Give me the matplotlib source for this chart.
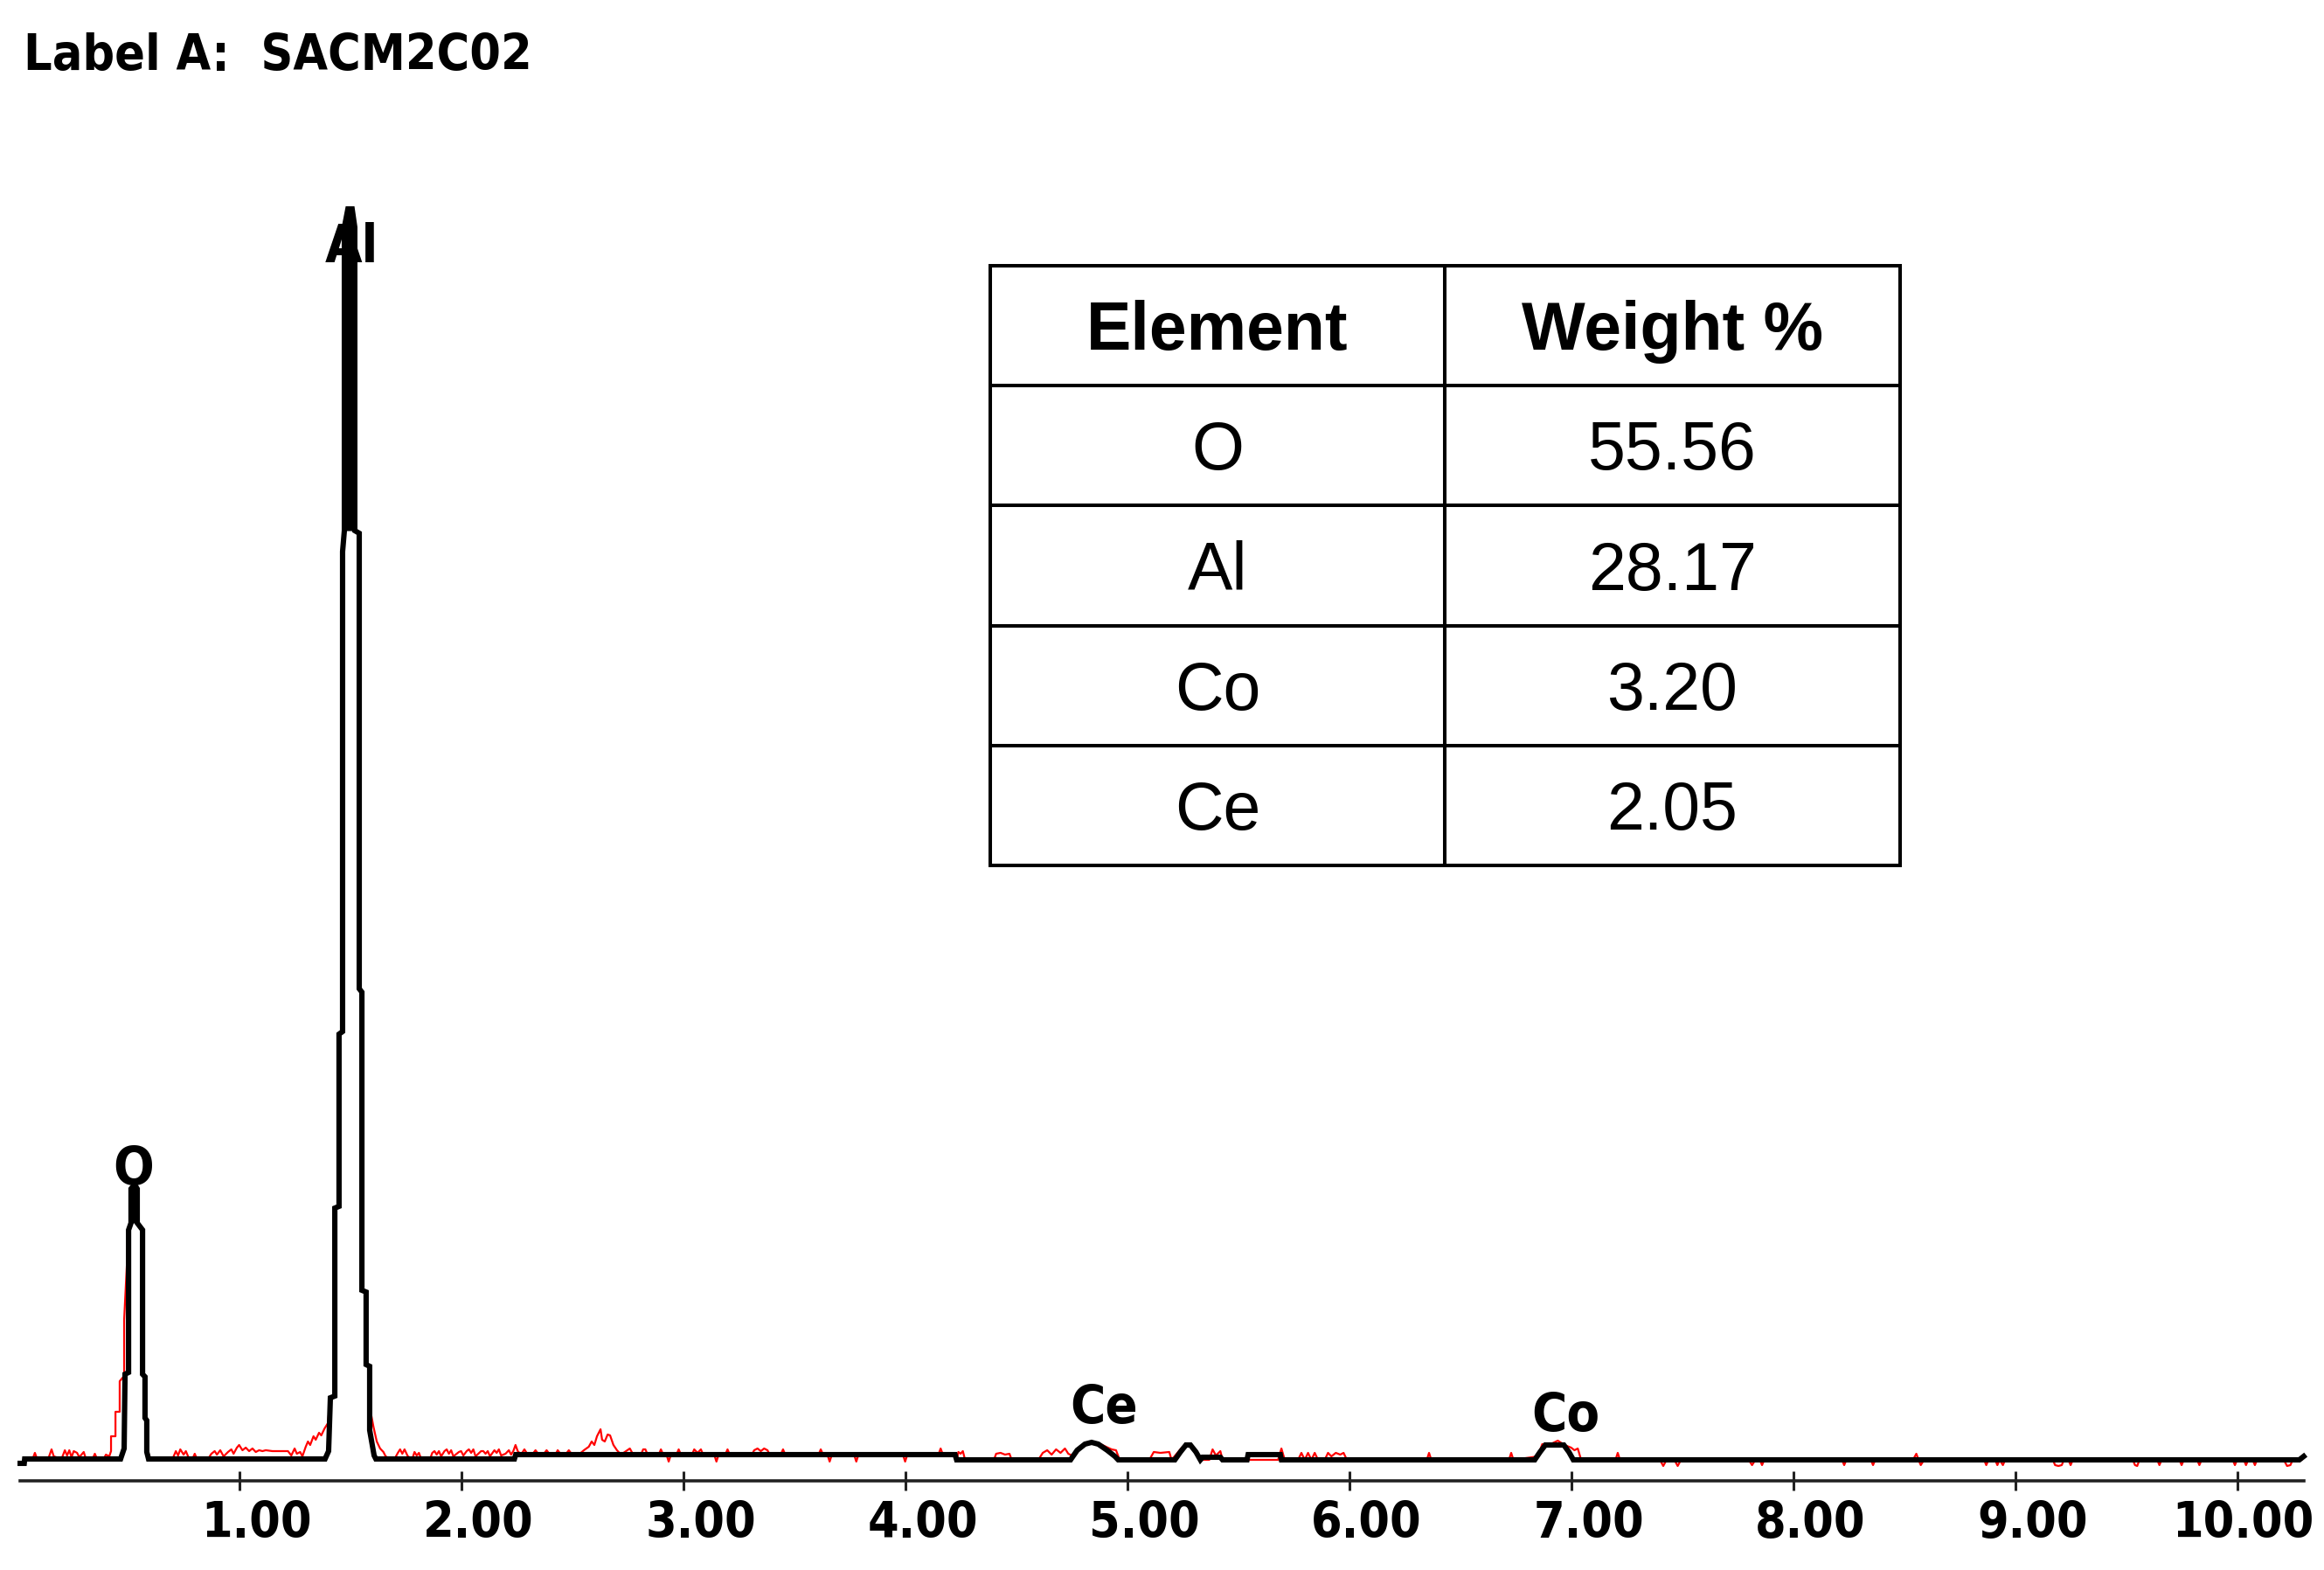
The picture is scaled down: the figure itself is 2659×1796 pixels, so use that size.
import numpy as np
import matplotlib
matplotlib.use('Agg')
import matplotlib.pyplot as plt
import matplotlib.transforms as mtransforms
from matplotlib import font_manager as fm

# ---- EDS spectrum: (energy keV, counts) ----
# black = processed/fit trace, red = raw counts (mostly hidden under the black one)
fit_pts = [(0.013, -5), (0.032, -5), (0.034, 0), (0.466, 0), (0.482, 12), (0.486, 97),
           (0.502, 99), (0.502, 262), (0.513, 270), (0.513, 309), (0.529, 314), (0.541, 309),
           (0.541, 270), (0.565, 262), (0.565, 97), (0.576, 94), (0.576, 47), (0.584, 44),
           (0.584, 8), (0.592, 0), (1.387, 0), (1.403, 9), (1.411, 70), (1.431, 72),
           (1.431, 287), (1.450, 289), (1.450, 486), (1.466, 489), (1.466, 1038), (1.474, 1062),
           (1.474, 1409), (1.490, 1430), (1.509, 1430), (1.521, 1409), (1.521, 1062),
           (1.541, 1059), (1.541, 538), (1.553, 534), (1.553, 193), (1.572, 191), (1.572, 108),
           (1.588, 106), (1.588, 33), (1.608, 4), (1.616, 0), (2.240, 0), (2.246, 5),
           (4.225, 5), (4.232, -1), (4.745, -1), (4.775, 10), (4.81, 17), (4.84, 19),
           (4.87, 17), (4.91, 10), (4.945, 3), (4.96, -1), (5.215, -1), (5.24, 8),
           (5.265, 16), (5.285, 16), (5.31, 8), (5.33, -1), (5.34, 2), (5.42, 2), (5.43, -1),
           (5.540, -1), (5.545, 5), (5.690, 5), (5.695, -1), (6.836, -1), (6.86, 8),
           (6.884, 16), (6.967, 16), (6.99, 8), (7.010, -1), (10.28, -1), (10.30, 3)]

raw_pts = [(0.03, 0), (0.07, 0), (0.08, 7), (0.09, 0), (0.14, 0), (0.155, 11), (0.165, 3),
           (0.20, 0), (0.215, 10), (0.225, 4), (0.235, 10), (0.245, 2), (0.255, 9), (0.27, 7),
           (0.28, 2), (0.30, 8), (0.31, 0), (0.34, 0), (0.35, 6), (0.36, 0), (0.39, 0),
           (0.40, 5), (0.415, 3), (0.423, 9), (0.423, 26), (0.443, 26), (0.443, 54),
           (0.462, 54), (0.462, 89), (0.482, 95), (0.482, 159), (0.502, 262), (0.513, 270),
           (0.513, 309), (0.529, 312), (0.541, 309), (0.541, 270), (0.565, 262), (0.565, 97),
           (0.576, 94), (0.576, 47), (0.584, 12), (0.60, 0),
           (0.70, 0), (0.715, 9), (0.725, 4), (0.735, 11), (0.75, 5), (0.76, 9), (0.775, 0),
           (0.79, 0), (0.80, 6), (0.81, 0), (0.86, 0), (0.875, 6), (0.89, 9), (0.90, 5),
           (0.915, 10), (0.93, 3), (0.95, 8), (0.965, 11), (0.975, 6), (0.99, 13), (1.00, 16),
           (1.015, 10), (1.03, 13), (1.045, 9), (1.06, 12), (1.075, 8), (1.09, 10),
           (1.105, 9), (1.12, 10), (1.15, 9), (1.19, 9), (1.22, 9), (1.235, 4), (1.25, 12),
           (1.26, 6), (1.275, 8), (1.285, 3), (1.30, 14), (1.31, 20), (1.32, 16), (1.335, 26),
           (1.345, 22), (1.36, 30), (1.37, 27), (1.385, 35), (1.40, 41), (1.411, 70),
           (1.431, 72), (1.431, 287), (1.450, 289), (1.450, 486), (1.466, 489), (1.466, 1038),
           (1.474, 1062), (1.474, 1409), (1.490, 1428), (1.509, 1428), (1.521, 1409),
           (1.521, 1062), (1.541, 1059), (1.541, 538), (1.553, 534), (1.553, 193),
           (1.572, 191), (1.572, 108), (1.588, 106), (1.588, 60), (1.605, 37), (1.62, 20),
           (1.635, 12), (1.65, 8), (1.66, 3), (1.68, 0),
           (1.70, 0), (1.715, 7), (1.725, 11), (1.735, 6), (1.745, 11), (1.76, 3), (1.78, 0),
           (1.79, 8), (1.80, 4), (1.81, 7), (1.82, 0), (1.86, 0), (1.87, 7), (1.88, 9),
           (1.89, 5), (1.90, 9), (1.91, 3), (1.925, 9), (1.935, 11), (1.945, 6), (1.955, 10),
           (1.965, 3), (1.99, 8), (2.00, 9), (2.01, 4), (2.025, 9), (2.035, 11), (2.045, 7),
           (2.055, 11), (2.065, 3), (2.09, 9), (2.10, 9), (2.11, 6), (2.12, 9), (2.13, 3),
           (2.15, 10), (2.16, 7), (2.17, 11), (2.18, 4), (2.20, 6), (2.215, 10), (2.225, 5),
           (2.235, 9), (2.245, 16), (2.255, 9),
           (2.27, 5), (2.285, 11), (2.30, 5), (2.32, 5), (2.335, 10), (2.35, 5), (2.37, 5),
           (2.385, 10), (2.40, 5), (2.425, 5), (2.435, 10), (2.45, 5), (2.47, 5), (2.485, 10),
           (2.50, 5), (2.53, 5), (2.553, 10), (2.575, 14), (2.588, 20), (2.60, 16),
           (2.612, 26), (2.628, 34), (2.635, 22), (2.647, 20), (2.66, 28), (2.671, 27),
           (2.686, 16), (2.702, 10), (2.72, 5), (2.76, 12), (2.775, 5), (2.81, 5), (2.82, 11),
           (2.83, 11), (2.84, 5), (2.89, 5), (2.90, 11), (2.91, 5), (2.925, 5), (2.935, -3),
           (2.945, 5), (2.97, 5), (2.98, 11), (2.99, 5), (3.04, 5), (3.05, 11), (3.065, 7),
           (3.08, 11), (3.09, 5), (3.14, 5), (3.15, -3), (3.16, 5), (3.19, 5), (3.20, 11),
           (3.21, 5), (3.31, 5), (3.32, 10), (3.335, 12), (3.35, 9), (3.365, 12), (3.38, 10),
           (3.39, 5), (3.44, 5), (3.45, 11), (3.46, 5), (3.61, 5), (3.62, 11), (3.63, 5),
           (3.65, 5), (3.66, -3), (3.67, 5), (3.77, 5), (3.78, -3), (3.79, 5), (3.99, 5),
           (4.00, -3), (4.01, 5), (4.15, 5), (4.16, 12), (4.17, 5), (4.21, 5), (4.225, 5),
           (4.232, -1), (4.24, 8), (4.25, 6), (4.26, 9), (4.27, -1), (4.40, -1), (4.41, 6),
           (4.43, 7), (4.45, 5), (4.47, 6), (4.48, -1), (4.60, -1), (4.62, 7), (4.64, 10),
           (4.66, 5), (4.68, 11), (4.70, 7), (4.72, 12), (4.735, 6), (4.76, 3), (4.80, 15),
           (4.84, 19), (4.88, 17), (4.93, 11), (4.95, 10), (4.965, 0), (5.10, -1), (5.12, 8),
           (5.15, 7), (5.19, 8), (5.20, -1), (5.25, 14), (5.28, 16), (5.31, 8), (5.33, -1),
           (5.37, -1), (5.385, 11), (5.40, 4), (5.42, 9), (5.43, -1), (5.68, -1), (5.695, 12),
           (5.71, -1), (5.77, -1), (5.785, 7), (5.80, -1), (5.815, 7), (5.83, -1), (5.845, 7),
           (5.86, -1), (5.89, -1), (5.905, 7), (5.92, 3), (5.94, 7), (5.96, 5), (5.975, 7),
           (5.99, -1), (6.35, -1), (6.36, 7), (6.37, -1), (6.72, -1), (6.73, 7), (6.74, -1),
           (6.85, 3), (6.87, 17), (6.90, 16), (6.94, 21), (6.97, 16), (7.00, 13), (7.015, 10),
           (7.03, 12), (7.045, -1), (7.20, -1), (7.21, 7), (7.22, -1), (7.40, -1), (7.415, -8),
           (7.43, -1), (7.465, -1), (7.48, -8), (7.495, -1),
           (7.80, -1), (7.815, -7), (7.83, -1), (7.85, -1), (7.86, -7), (7.87, -1), (8.22, -1),
           (8.23, -7), (8.24, -1), (8.35, -1), (8.36, -7), (8.37, -1), (8.54, -1), (8.555, 6),
           (8.565, -1), (8.575, -7), (8.59, -1), (8.86, -1), (8.87, -7), (8.88, -1), (8.91, -1),
           (8.92, -7), (8.93, -1), (8.945, -7), (8.955, -1), (9.17, -1), (9.18, -7),
           (9.195, -8), (9.21, -7), (9.22, -1), (9.24, -1), (9.25, -7), (9.26, -1), (9.53, -1),
           (9.54, -7), (9.55, -8), (9.56, -1), (9.64, -1), (9.65, -7), (9.66, -1), (9.74, -1),
           (9.75, -7), (9.76, -1), (9.82, -1), (9.83, -7), (9.84, -1), (9.98, -1), (9.99, -7),
           (10.00, -1), (10.03, -1), (10.04, -7), (10.05, -1), (10.07, -1), (10.08, -7),
           (10.09, -1), (10.21, -1), (10.225, -8), (10.24, -7), (10.25, -1), (10.29, -1)]

peak_names = ['O', 'Al', 'Ce', 'Co']
peak_kev = [0.524, 1.506, 4.895, 6.974]     # label anchor (centre, baseline)
peak_cts = [314, 1369, 41, 32]

tick_kev = [1, 2, 3, 4, 5, 6, 7, 8, 9, 10]

elements = ['O', 'Al', 'Co', 'Ce']
weight_pct = [55.56, 28.17, 3.20, 2.05]
table_head = ['Element', 'Weight %']
sample_label = 'Label A:  SACM2C02'

fit_kev, fit_cts = np.array(fit_pts, dtype=float).T
raw_kev, raw_cts = np.array(raw_pts, dtype=float).T

# ---- a narrow bold face for the instrument-style labels, if one is installed ----
STRETCH = {'ultra-condensed': 100, 'extra-condensed': 200, 'condensed': 300,
           'semi-condensed': 400, 'normal': 500}
WEIGHT = {'bold': 700, 'semibold': 600, 'demibold': 600, 'heavy': 800, 'black': 900,
          'extra bold': 800, 'ultrabold': 800}


def _num(v, table, default):
    if isinstance(v, (int, float)):
        return v
    return table.get(str(v).lower(), default)


def narrow_font():
    pref = ['Liberation Sans Narrow', 'DejaVu Sans', 'Noto Sans', 'Roboto Condensed',
            'Roboto', 'Open Sans', 'Lato', 'Inter']
    hits = []
    for f in fm.fontManager.ttflist:
        narrow = (_num(f.stretch, STRETCH, 500) < 500 or 'Narrow' in f.name
                  or 'Condensed' in f.name)
        bold = _num(f.weight, WEIGHT, 400) >= 600
        upright = f.style == 'normal' and 'italic' not in f.fname.lower()
        if narrow and bold and upright:
            hits.append(f)
    hits.sort(key=lambda f: (pref.index(f.name) if f.name in pref else 99,
                             abs(_num(f.weight, WEIGHT, 400) - 700)))
    if hits:
        return fm.FontProperties(fname=hits[0].fname)
    return fm.FontProperties(family=['Liberation Sans', 'DejaVu Sans'], weight='bold')


NARROW = narrow_font()
ARIAL = ['Liberation Sans', 'DejaVu Sans']


def nfont(size):
    fp = NARROW.copy(); fp.set_size(size)
    return fp


# ---- figure: 1 px == 1 count vertically, 254 px per keV ----
W, H = 2659, 1796
fig = plt.figure(figsize=(W / 100, H / 100), dpi=100)
ax = fig.add_axes([19.6 / W, 1 - 1694 / H, 254 * 10.35 / W, (1694 - 189) / H])
ax.set_xlim(0, 10.35); ax.set_ylim(-25, 1480)

ax.plot(raw_kev, raw_cts, color='#ff0000', lw=1.6, zorder=2)
ax.plot(fit_kev, fit_cts, color='black', lw=4.4, solid_joinstyle='miter', zorder=3)
# peak tops are solid black in the original (the two flanks merge)
cap_o = (fit_kev < 1.0) & (fit_cts >= 270)
cap_al = (fit_kev > 1.0) & (fit_cts >= 1062)
ax.fill_between(fit_kev, 270, fit_cts, where=cap_o, color='black', lw=0, zorder=3)
ax.fill_between(fit_kev, 1062, fit_cts, where=cap_al, color='black', lw=0, zorder=3)

for n, e, c in zip(peak_names, peak_kev, peak_cts):
    ax.text(e, c, n, ha='center', va='baseline', fontproperties=nfont(44), zorder=4)

for s in ('top', 'left', 'right'):
    ax.spines[s].set_visible(False)
ax.spines['bottom'].set_bounds(0.013, 10.30)
ax.spines['bottom'].set_linewidth(2.6); ax.spines['bottom'].set_color('#222222')
ax.set_yticks([])
ax.set_xticks(tick_kev, ['%.2f' % t for t in tick_kev])
ax.tick_params(axis='x', direction='inout', length=16, width=2.2, pad=8, colors='#222222',
               labelcolor='black')
for lbl in ax.get_xticklabels():
    lbl.set_fontproperties(nfont(41))
    dx = 20 if len(lbl.get_text()) == 4 else 7      # decimal point sits just right of tick
    lbl.set_transform(lbl.get_transform() +
                      mtransforms.ScaledTranslation(dx / 100, 0, fig.dpi_scale_trans))
ax.patch.set_visible(False)

fig.text(27 / W, 1 - 80 / H, sample_label, ha='left', va='baseline',
         fontproperties=nfont(41))

# ---- composition table (drawn in figure pixels) ----
tax = fig.add_axes([0, 0, 1, 1]); tax.set_xlim(0, W); tax.set_ylim(H, 0); tax.axis('off')
row_y = [304, 441, 578, 716, 853, 990]
col_x = [1133, 1653, 2174]
tax.hlines(row_y, col_x[0] - 2, col_x[-1] + 2, color='black', lw=2.9)
tax.vlines(col_x, row_y[0], row_y[-1], color='black', lw=2.9)
fs_px = 77
cx = [(col_x[0] + col_x[1]) / 2, (col_x[1] + col_x[2]) / 2]
for j, h in enumerate(table_head):
    yc = (row_y[0] + row_y[1]) / 2
    tax.text(cx[j], yc + 0.358 * fs_px, h, ha='center', va='baseline', fontsize=fs_px * 0.72,
             fontweight='bold', family=ARIAL)
for i, (el, w) in enumerate(zip(elements, weight_pct)):
    yc = (row_y[i + 1] + row_y[i + 2]) / 2
    tax.text(cx[0], yc + 0.358 * fs_px, el, ha='center', va='baseline', fontsize=fs_px * 0.72,
             family=ARIAL)
    tax.text(cx[1], yc + 0.358 * fs_px, '%.2f' % w, ha='center', va='baseline',
             fontsize=fs_px * 0.72, family=ARIAL)

fig.savefig('out.png', dpi=100)
